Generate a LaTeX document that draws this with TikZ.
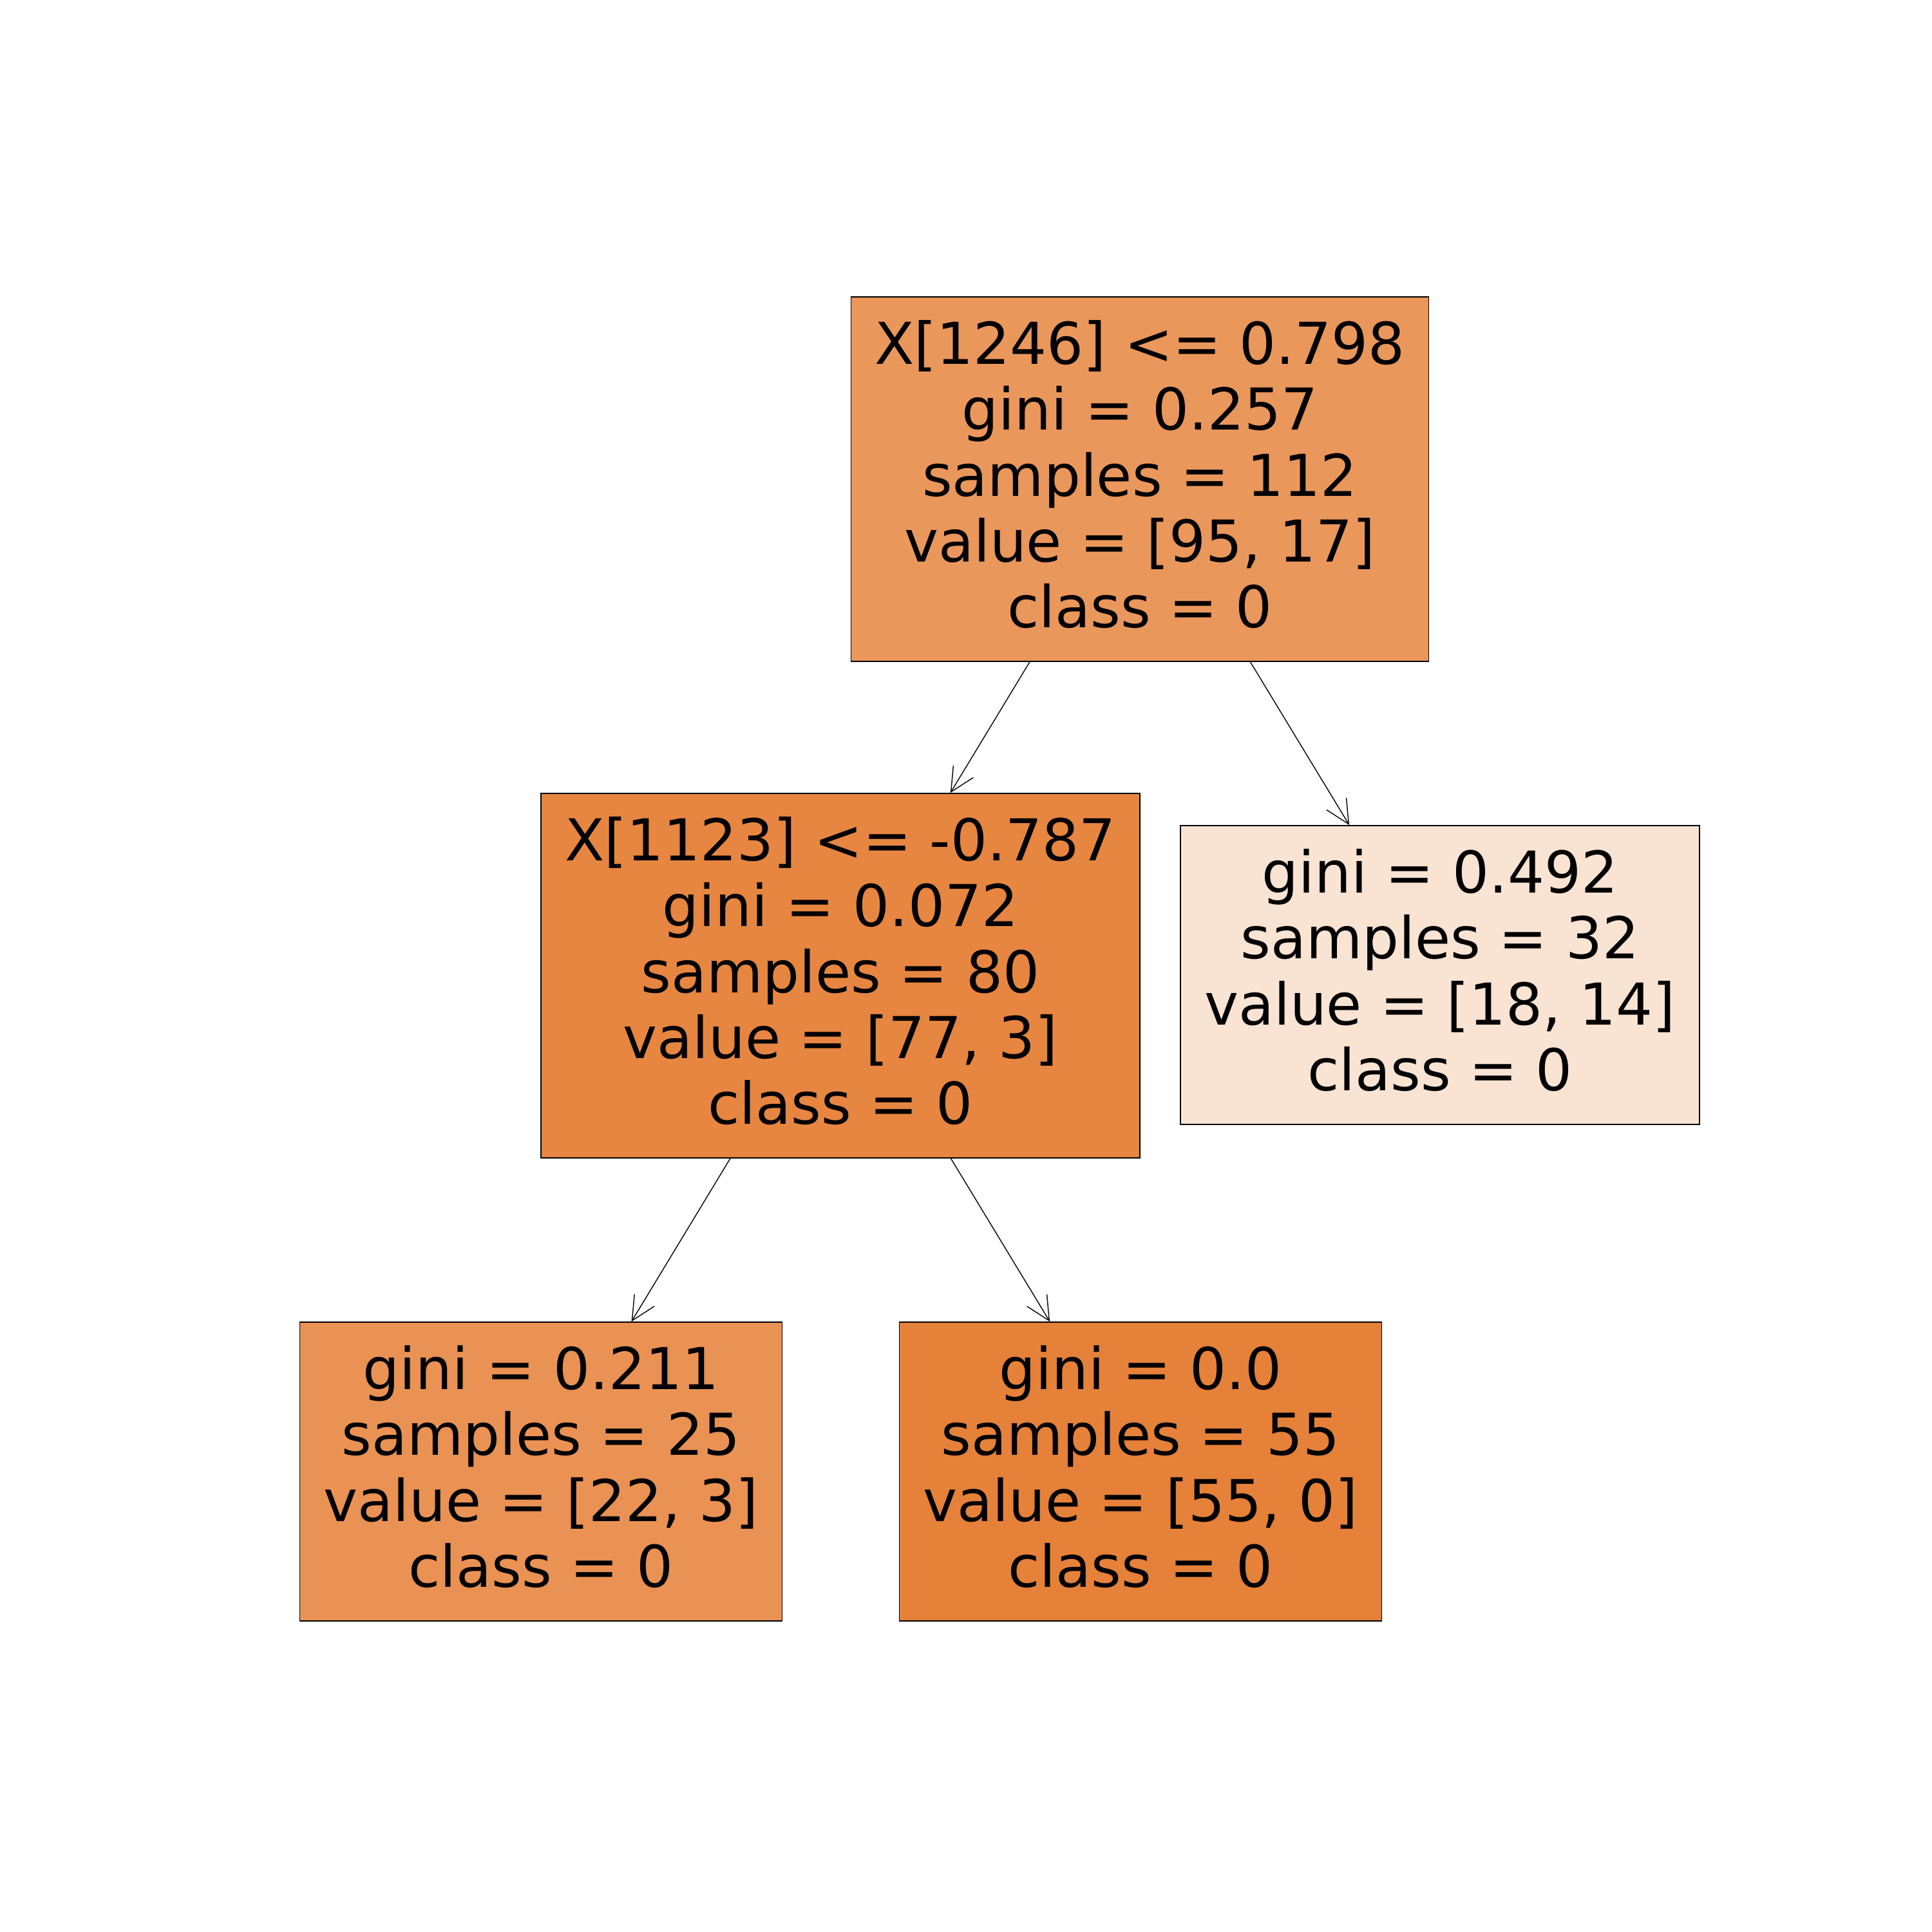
\documentclass[tikz,border=0pt]{standalone}
\usepackage{fontspec}
\setmainfont{DejaVu Sans}
\usepackage{xcolor}
\definecolor{rootfill}{HTML}{EA975C}
\definecolor{splitfill}{HTML}{E68641}
\definecolor{mixfill}{HTML}{F9E3D3}
\definecolor{leaffill}{HTML}{E99254}
\definecolor{purefill}{HTML}{E58139}
\usetikzlibrary{arrows.meta}

\tikzset{
  treenode/.style={draw=black, line width=0.5pt, inner xsep=0.37cm, align=center,
    text depth=0.16cm, font=\fontsize{25.5pt}{29.1pt}\selectfont},
  splitnode/.style={treenode, minimum height=5.66cm},
  leafnode/.style={treenode, minimum height=4.64cm},
  treeedge/.style={line width=0.4pt, -{Straight Barb[length=0.37cm, width=0.36cm]}}
}

\begin{document}
\begin{tikzpicture}
  % Page
  \useasboundingbox (0, 0) rectangle (30, -30);

  \node[splitnode, fill=rootfill] (root) at(17.70, -7.44) {
    X[1246] <= 0.798\\ gini = 0.257\\ samples = 112\\ value = [95, 17]\\ class = 0
  };
  \node[splitnode, fill=splitfill] (left) at(13.05, -15.15) {
    X[1123] <= -0.787\\ gini = 0.072\\ samples = 80\\ value = [77, 3]\\ class = 0
  };
  \node[leafnode, fill=mixfill] (right) at(22.36, -15.14) {
    gini = 0.492\\ samples = 32\\ value = [18, 14]\\ class = 0
  };
  \node[leafnode, fill=leaffill] (leftleft) at(8.40, -22.85) {
    gini = 0.211\\ samples = 25\\ value = [22, 3]\\ class = 0
  };
  \node[leafnode, fill=purefill] (leftright) at(17.71, -22.85) {
    gini = 0.0\\ samples = 55\\ value = [55, 0]\\ class = 0
  };

  % Edges
  \draw[treeedge] (root) -- (left);
  \draw[treeedge] (root) -- (right);
  \draw[treeedge] (left) -- (leftleft);
  \draw[treeedge] (left) -- (leftright);
\end{tikzpicture}
\end{document}
